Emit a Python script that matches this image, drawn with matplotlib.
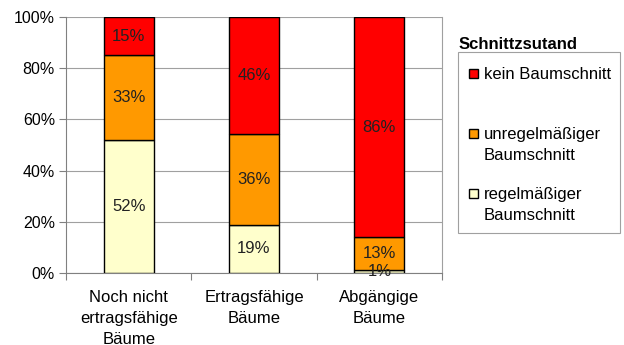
import matplotlib
matplotlib.use("Agg")
import matplotlib.pyplot as plt
import numpy as np
from matplotlib.patches import Rectangle

plt.rcParams['font.family'] = ['Liberation Sans', 'DejaVu Sans']

categories = ["Noch nicht\nertragsfähige\nBäume", "Ertragsfähige\nBäume", "Abgängige\nBäume"]
series_names = ["regelmäßiger\nBaumschnitt", "unregelmäßiger\nBaumschnitt", "kein Baumschnitt"]
regel = [52, 19, 1]
unregel = [33, 36, 13]
kein = [15, 46, 86]
colors = ["#FFFFCC", "#FF9900", "#FF0000"]
yticks = [0, 20, 40, 60, 80, 100]
legend_title = "Schnittzsutand"

W, H = 624, 345
fig = plt.figure(figsize=(6.24, 3.45), dpi=100)
ax = fig.add_axes([66/W, 1-273/H, 376/W, 256/H])

data = np.array([regel, unregel, kein], dtype=float)
totals = data.sum(axis=0)
shares = data / totals * 100
x = np.arange(len(categories)) + 0.5
bottom = np.zeros(len(categories))
for i in range(3):
    bars = ax.bar(x, shares[i], width=0.4, bottom=bottom, color=colors[i],
                  edgecolor="black", linewidth=1.0, zorder=3)
    for j, b in enumerate(bars):
        ax.text(b.get_x() + b.get_width()/2, bottom[j] + shares[i][j]/2,
                f"{int(data[i][j])}%", ha="center", va="center",
                fontsize=12, color="#222222", zorder=4)
    bottom += shares[i]

ax.set_xlim(0, 3)
ax.set_ylim(0, 100)
ax.set_yticks(yticks)
ax.set_yticklabels([f"{v}%" for v in yticks], fontsize=11.5)
ax.set_xticks([0, 1, 2, 3])
ax.set_xticklabels([])
ax.set_xticks(x, minor=True)
ax.set_xticklabels(categories, minor=True, fontsize=12, linespacing=1.5)
ax.tick_params(axis="x", which="minor", length=0, pad=12)
ax.tick_params(axis="x", which="major", length=5, color="#808080", direction="out")
ax.tick_params(axis="y", length=5, color="#808080", direction="out", pad=3)
ax.yaxis.grid(True, color="#a0a0a0", linewidth=0.8, zorder=0)
for s in ax.spines.values():
    s.set_color("#a0a0a0")
    s.set_linewidth(0.8)
ax.spines["top"].set_visible(False)
ax.spines["left"].set_color("#808080")
ax.spines["bottom"].set_color("#808080")

# Legend (drawn manually to mimic Excel layout)
fig.patches.append(Rectangle((458/W, 1-233/H), 162/W, 181/H, transform=fig.transFigure,
                             facecolor="white", edgecolor="#a0a0a0", linewidth=0.8))
fig.text(459/W, 1-43/H, legend_title, fontsize=12, fontweight="bold",
         ha="left", va="center_baseline")
entry_y = [73, 133, 193]
order = [2, 1, 0]
for k, i in enumerate(order):
    yc = entry_y[k]
    fig.patches.append(Rectangle((469/W, 1-(yc+4.5)/H), 9/W, 9/H, transform=fig.transFigure,
                                 facecolor=colors[i], edgecolor="black", linewidth=1.0))
    for li, line in enumerate(series_names[i].split("\n")):
        fig.text(484/W, 1-(yc + li*21)/H, line, fontsize=12, ha="left",
                 va="center_baseline")

fig.savefig("out.png", dpi=100)
